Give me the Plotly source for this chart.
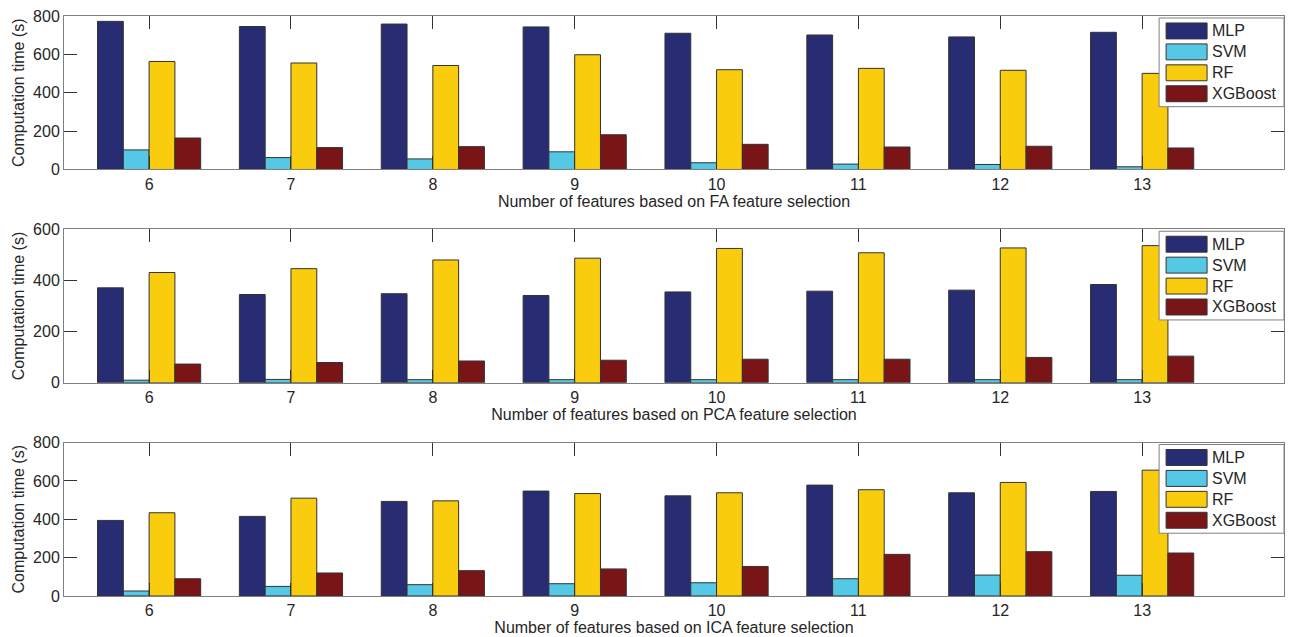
import plotly.graph_objects as go
from plotly.subplots import make_subplots

# Feature counts shared by all three panels
features = [6, 7, 8, 9, 10, 11, 12, 13]
models = ["MLP", "SVM", "RF", "XGBoost"]

# Computation time (s) with FA feature selection
fa_mlp = [772, 745, 758, 743, 710, 701, 691, 715]
fa_svm = [102, 62, 55, 92, 35, 28, 26, 14]
fa_rf = [563, 555, 542, 598, 520, 527, 517, 501]
fa_xgb = [164, 114, 119, 181, 131, 117, 121, 112]

# Computation time (s) with PCA feature selection
pca_mlp = [371, 345, 348, 341, 355, 358, 362, 384]
pca_svm = [10, 13, 12, 12, 12, 12, 12, 12]
pca_rf = [431, 446, 480, 487, 525, 508, 527, 536]
pca_xgb = [73, 79, 85, 88, 92, 92, 99, 104]

# Computation time (s) with ICA feature selection
ica_mlp = [394, 415, 493, 547, 522, 578, 538, 545]
ica_svm = [26, 50, 59, 64, 69, 90, 109, 108]
ica_rf = [434, 510, 496, 534, 538, 554, 592, 656]
ica_xgb = [90, 120, 132, 141, 154, 217, 231, 224]

panels = [
    ("FA", [fa_mlp, fa_svm, fa_rf, fa_xgb], 800),
    ("PCA", [pca_mlp, pca_svm, pca_rf, pca_xgb], 600),
    ("ICA", [ica_mlp, ica_svm, ica_rf, ica_xgb], 800),
]

colors = ["#282C73", "#55C8E6", "#F9CD0D", "#7A1517"]
edge = "#333333"
text_col = "#262626"
font = "Liberation Sans, Arial, sans-serif"

W, H = 1292, 637
ML, MR, MT, MB = 64, 7, 16, 39
plot_w = W - ML - MR
plot_h = H - MT - MB
panel_tops = [16, 230, 444]
panel_px = 154

fig = make_subplots(rows=3, cols=1)

for i, (name, series, ymax) in enumerate(panels):
    row = i + 1
    for m, vals, c in zip(models, series, colors):
        fig.add_trace(
            go.Bar(
                x=features, y=vals, name=m, marker=dict(color=c, line=dict(color=edge, width=1)),
                showlegend=False, hoverinfo="x+y+name",
            ),
            row=row, col=1,
        )

    top = panel_tops[i]
    bottom = top + panel_px
    dom = [(H - MB - bottom) / plot_h, (H - MB - top) / plot_h]
    ax = "" if row == 1 else str(row)

    fig.update_layout(**{
        f"xaxis{ax}": dict(
            domain=[0, 1], range=[5.4, 14], tickvals=features, ticktext=[str(v) for v in features],
            ticks="inside", ticklen=13, tickcolor="#333333", tickwidth=1,
            showline=True, linecolor="#808080", linewidth=1, mirror="ticks",
            showgrid=False, zeroline=False,
            tickfont=dict(family=font, size=16, color=text_col),
            title=dict(text=f"Number of features based on {name} feature selection",
                       font=dict(family=font, size=16, color=text_col), standoff=0),
        ),
        f"yaxis{ax}": dict(
            domain=dom, range=[0, ymax], dtick=200,
            ticks="inside", ticklen=13, tickcolor="#333333", tickwidth=1,
            showline=True, linecolor="#808080", linewidth=1, mirror="ticks",
            showgrid=False, zeroline=False,
            tickfont=dict(family=font, size=16, color=text_col),
            title=dict(text="Computation time (s)",
                       font=dict(family=font, size=16, color=text_col), standoff=4),
        ),
    })

    # Boxed legend in the upper-right corner of each panel
    xr = f"x{ax} domain"
    yr = f"y{ax} domain"

    def dx(px):
        return (px - ML) / plot_w

    def dy(off):
        return 1 - off / panel_px

    fig.add_shape(type="rect", xref=xr, yref=yr, x0=dx(1160), x1=dx(1285), y0=dy(91), y1=dy(2),
                  fillcolor="white", line=dict(color="#808080", width=1), layer="above")
    for k, (m, c) in enumerate(zip(models, colors)):
        y0 = 7 + 21 * k
        fig.add_shape(type="rect", xref=xr, yref=yr, x0=dx(1167), x1=dx(1208),
                      y0=dy(y0 + 16), y1=dy(y0), fillcolor=c, line=dict(color=edge, width=1),
                      layer="above")
        fig.add_annotation(xref=xr, yref=yr, x=dx(1211), y=dy(y0 + 8), text=m,
                           showarrow=False, xanchor="left", yanchor="middle",
                           font=dict(family=font, size=16, color=text_col))

fig.update_layout(
    width=W, height=H,
    margin=dict(l=ML, r=MR, t=MT, b=MB),
    barmode="group", bargap=0.2727, bargroupgap=0,
    plot_bgcolor="white", paper_bgcolor="white",
    showlegend=False,
)

fig.write_html("out.html")
